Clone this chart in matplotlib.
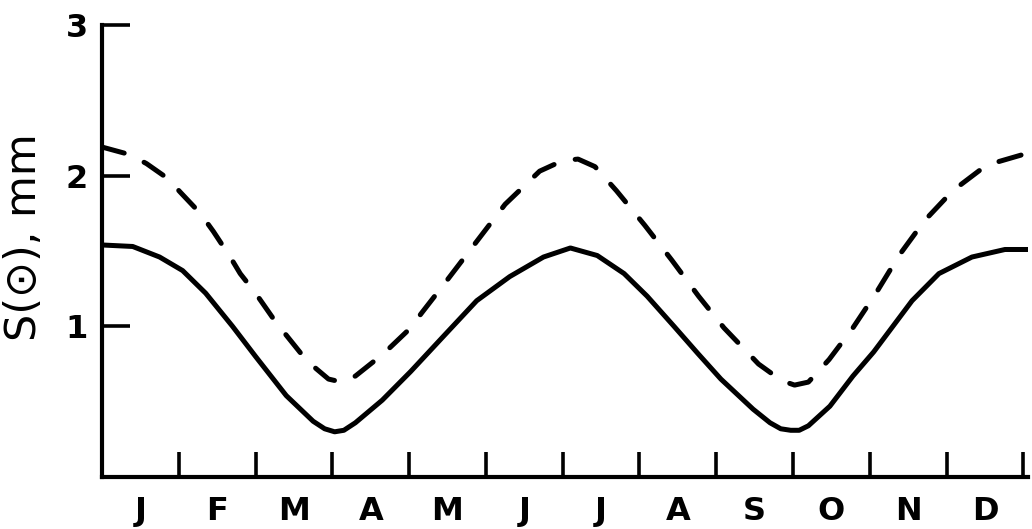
import matplotlib
matplotlib.use("Agg")
import matplotlib.pyplot as plt

# Month labels (centered in each month)
months = ["J", "F", "M", "A", "M", "J", "J", "A", "S", "O", "N", "D"]

# Solid curve (time in months from 1 Jan, value in mm)
solid_t = [0.0, 0.4, 0.75, 1.05, 1.35, 1.7, 2.0, 2.4, 2.75, 2.9, 3.03, 3.15, 3.3,
           3.65, 4.02, 4.44, 4.88, 5.31, 5.75, 6.1, 6.45, 6.8, 7.1, 7.45, 7.76,
           8.06, 8.48, 8.7, 8.84, 8.97, 9.08, 9.2, 9.48, 9.78, 10.05, 10.3, 10.55,
           10.9, 11.33, 11.76, 12.06]
solid_v = [1.54, 1.53, 1.46, 1.37, 1.22, 1.00, 0.80, 0.54, 0.37, 0.32, 0.30, 0.31,
           0.36, 0.51, 0.70, 0.93, 1.17, 1.33, 1.46, 1.52, 1.47, 1.35, 1.20, 1.00,
           0.82, 0.65, 0.45, 0.36, 0.32, 0.31, 0.31, 0.34, 0.47, 0.67, 0.83, 1.00,
           1.17, 1.35, 1.46, 1.51, 1.51]

# Dashed curve
dashed_t = [0.0, 0.36, 0.58, 0.86, 1.02, 1.28, 1.45, 1.67, 1.8, 2.0, 2.26, 2.67,
            2.95, 3.12, 3.3, 3.67, 4.0, 4.18, 4.47, 4.86, 5.25, 5.7, 6.0, 6.2,
            6.42, 6.7, 7.07, 7.42, 7.77, 8.1, 8.55, 8.85, 9.02, 9.2, 9.47, 9.78,
            10.08, 10.38, 10.71, 11.08, 11.52, 12.06]
dashed_v = [2.19, 2.14, 2.08, 1.98, 1.89, 1.75, 1.63, 1.46, 1.35, 1.22, 1.03, 0.77,
            0.65, 0.63, 0.67, 0.82, 0.98, 1.10, 1.29, 1.55, 1.81, 2.03, 2.10, 2.11,
            2.06, 1.90, 1.67, 1.44, 1.20, 0.99, 0.75, 0.64, 0.61, 0.63, 0.78, 0.99,
            1.22, 1.47, 1.70, 1.90, 2.07, 2.15]

y_ticks = [1, 2, 3]
y_ticklabels = ["1", "2", "3"]

fig = plt.figure(figsize=(10.32, 5.29), dpi=100)
ax = fig.add_axes([102 / 1032, 52 / 529, 926 / 1032, 452 / 529])

ax.plot(solid_t, solid_v, color="black", lw=3.6, solid_capstyle="round",
        solid_joinstyle="round")
ax.plot(dashed_t, dashed_v, color="black", lw=3.6, dashes=(4.6, 4.4),
        dash_capstyle="round", dash_joinstyle="round")

ax.set_xlim(0, 12.06)
ax.set_ylim(0, 3)

for s in ["top", "right"]:
    ax.spines[s].set_visible(False)
for s in ["left", "bottom"]:
    ax.spines[s].set_linewidth(3)
    ax.spines[s].set_capstyle("projecting")

# x: major ticks at month boundaries, labels at mid-month
ax.set_xticks(list(range(1, 13)))
ax.set_xticklabels([])
ax.set_xticks([i + 0.5 for i in range(12)], minor=True)
ax.set_xticklabels(months, minor=True, fontsize=23, fontweight="bold",
                   family="DejaVu Sans")
ax.tick_params(axis="x", which="major", direction="in", length=18, width=2.6)
ax.tick_params(axis="x", which="minor", length=0, pad=14)

ax.set_yticks(y_ticks)
ax.set_yticklabels(y_ticklabels, fontsize=23, fontweight="bold", family="DejaVu Sans")
ax.tick_params(axis="y", which="major", direction="in", length=20, width=2.6, pad=10)

ax.set_ylabel("S(\u2299), mm", fontsize=31, family="DejaVu Sans")
ax.yaxis.set_label_coords(-0.062, 0.53)

fig.savefig("out.png", dpi=100)
